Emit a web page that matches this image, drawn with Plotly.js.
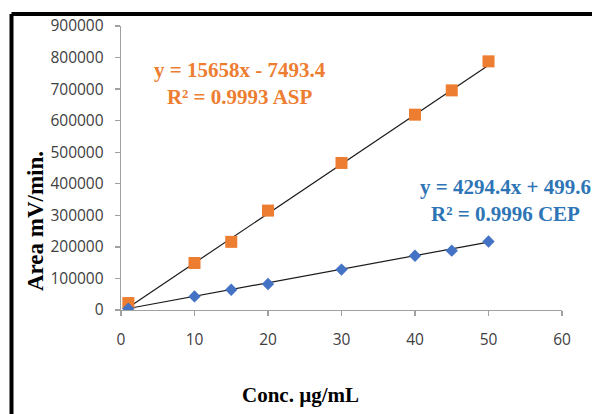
<!DOCTYPE html>
<html>
<head>
<meta charset="utf-8">
<script src="https://cdn.plot.ly/plotly-3.0.1.min.js"></script>
<style>html,body{margin:0;padding:0;background:#fff;}#chart{width:592px;height:414px;}</style>
</head>
<body>
<div id="chart"></div>
<script>
// Data
const conc = [1, 10, 15, 20, 30, 40, 45, 50];
const aspArea = [22000, 149000, 216000, 315000, 466000, 619000, 696000, 788000];
const cepArea = [4000, 43000, 64000, 82500, 128000, 172000, 188000, 217000];
// Trendline coefficients as displayed on the chart [slope, intercept]
const aspFit = [15658, -7493.4];
const cepFit = [4294.4, 499.6];
const aspLabel = ["y = 15658x - 7493.4", "R² = 0.9993 ASP"];
const cepLabel = ["y = 4294.4x + 499.6", "R² = 0.9996 CEP"];
const xTicks = [0, 10, 20, 30, 40, 50, 60];
const yTicks = [0, 100000, 200000, 300000, 400000, 500000, 600000, 700000, 800000, 900000];

const xEnds = [conc[0], conc[conc.length - 1]];
const fitLine = (c) => xEnds.map(x => c[0] * x + c[1]);

const traces = [
  {x: xEnds, y: fitLine(aspFit), mode: 'lines', line: {color: '#1a1a1a', width: 1.2}, hoverinfo: 'skip', showlegend: false},
  {x: xEnds, y: fitLine(cepFit), mode: 'lines', line: {color: '#1a1a1a', width: 1.2}, hoverinfo: 'skip', showlegend: false},
  {x: conc, y: aspArea, mode: 'markers', name: 'ASP', marker: {symbol: 'square', size: 12, color: '#ED7D31'}, showlegend: false},
  {x: conc, y: cepArea, mode: 'markers', name: 'CEP', marker: {symbol: 'diamond', size: 9.5, color: '#4472C4'}, showlegend: false}
];

const tickFont = {family: '"Open Sans", sans-serif', size: 15.5, color: '#404040'};
const serif = '"Liberation Serif", "Times New Roman", serif';

const layout = {
  width: 592, height: 414,
  margin: {l: 121, r: 30, t: 26, b: 104, pad: 0},
  paper_bgcolor: '#ffffff', plot_bgcolor: '#ffffff',
  showlegend: false,
  xaxis: {
    range: [0, 60], tickvals: xTicks, ticktext: xTicks.map(String),
    showgrid: false, zeroline: false, showline: true, linecolor: '#A0A0A0', linewidth: 1.3,
    ticks: 'outside', ticklen: 5, tickcolor: '#A0A0A0', tickwidth: 1.3,
    tickfont: tickFont, ticklabelstandoff: 10
  },
  yaxis: {
    range: [0, 900000], tickvals: yTicks, ticktext: yTicks.map(String),
    showgrid: false, zeroline: false, showline: true, linecolor: '#A0A0A0', linewidth: 1.3,
    ticks: 'outside', ticklen: 5, tickcolor: '#A0A0A0', tickwidth: 1.3,
    tickfont: tickFont, ticklabelstandoff: 8
  },
  annotations: [
    {xref: 'paper', yref: 'paper', x: 0.2698, y: 0.7975, xanchor: 'center', yanchor: 'middle', showarrow: false,
     text: '<b>' + aspLabel.join('<br>') + '</b>', align: 'center',
     font: {family: serif, size: 21, color: '#ED7D31'}},
    {xref: 'paper', yref: 'paper', x: 0.873, y: 0.387, xanchor: 'center', yanchor: 'middle', showarrow: false,
     text: '<b>' + cepLabel.join('<br>') + '</b>', align: 'center',
     font: {family: serif, size: 21, color: '#2E75B6'}},
    {xref: 'paper', yref: 'paper', x: 0.406, y: -0.299, xanchor: 'center', yanchor: 'middle', showarrow: false,
     text: '<b>Conc. µg/mL</b>', font: {family: serif, size: 21, color: '#000000'}},
    {xref: 'paper', yref: 'paper', x: -0.195, y: 0.313, xanchor: 'center', yanchor: 'middle', showarrow: false,
     textangle: -90, text: '<b>Area mV/min.</b>', font: {family: serif, size: 23, color: '#000000'}}
  ],
  shapes: [
    {type: 'line', xref: 'paper', yref: 'paper', x0: -0.2483, x1: -0.2483, y0: -0.5, y1: 1.0423, line: {color: '#000', width: 4}},
    {type: 'line', xref: 'paper', yref: 'paper', x0: -0.2483, x1: 1.2, y0: 1.0423, y1: 1.0423, line: {color: '#000', width: 4}}
  ]
};

Plotly.newPlot('chart', traces, layout, {staticPlot: true, displayModeBar: false});
</script>
</body>
</html>
